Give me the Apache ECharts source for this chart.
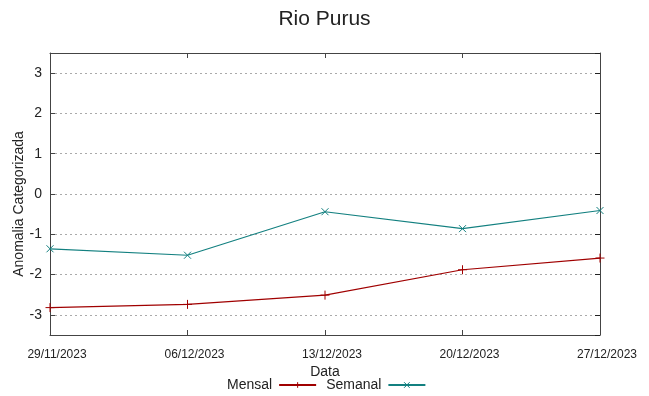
<!DOCTYPE html>
<html>
<head>
<meta charset="utf-8">
<script src="https://cdn.jsdelivr.net/npm/echarts@6/dist/echarts.min.js"></script>
<style>html,body{margin:0;padding:0;background:#fff}#c{width:649px;height:396px}</style>
</head>
<body>
<div id="c"></div>
<script>
var categories = ['29/11/2023', '06/12/2023', '13/12/2023', '20/12/2023', '27/12/2023'];
var mensal = [-2.82, -2.74, -2.51, -1.88, -1.59];
var semanal = [-1.36, -1.52, -0.44, -0.86, -0.41];
var yTicks = [-3, -2, -1, 0, 1, 2, 3];

var RED = '#a00000';
var TEAL = '#138080';
var PLUS = 'path://M5,0L5,10M0,5L10,5';
var CROSS = 'path://M0,0L10,10M0,10L10,0';

var chart = echarts.init(document.getElementById('c'), null, {renderer: 'canvas'});
var axisLine = {show: true, onZero: false, lineStyle: {color: '#444', width: 1}};
chart.setOption({
  animation: false,
  backgroundColor: '#fff',
  title: {
    text: 'Rio Purus', left: 'center', top: 4,
    textStyle: {fontFamily: 'Liberation Sans', fontSize: 21, fontWeight: 'normal', color: '#222'}
  },
  legend: {
    left: 222, top: 373, align: 'right', itemGap: 9, itemWidth: 37, itemHeight: 7,
    itemStyle: {borderWidth: 1},
    textStyle: {fontFamily: 'Liberation Sans', fontSize: 14, color: '#222', padding: [0, 2, 0, 0]},
    data: ['Mensal', 'Semanal']
  },
  grid: {left: 50, right: 49, top: 53, height: 282, outerBoundsMode: 'none', containLabel: false},
  xAxis: [{
    type: 'category', data: categories, boundaryGap: false,
    name: 'Data', nameLocation: 'middle', nameGap: 30, nameMoveOverlap: false,
    nameTextStyle: {fontFamily: 'Liberation Sans', fontSize: 14, color: '#222'},
    axisLine: axisLine,
    axisTick: {show: true, inside: true, length: 5, lineStyle: {color: '#444'}},
    axisLabel: {fontFamily: 'Liberation Sans', fontSize: 12, color: '#222', margin: 14, padding: [0, 0, 0, 14]},
    splitLine: {show: false}
  }, {
    type: 'category', data: categories, boundaryGap: false, position: 'top',
    axisLine: axisLine,
    axisTick: {show: true, inside: true, length: 5, lineStyle: {color: '#444'}},
    axisLabel: {show: false}, splitLine: {show: false}
  }],
  yAxis: [{
    type: 'value', min: -3.5, max: 3.5, splitNumber: 7,
    name: 'Anomalia Categorizada', nameLocation: 'middle', nameGap: 24, nameRotate: 90, nameMoveOverlap: false,
    nameTextStyle: {fontFamily: 'Liberation Sans', fontSize: 14, color: '#222', padding: [0, 20, 0, 0]},
    axisLine: axisLine,
    axisTick: {show: true, inside: true, length: 5, lineStyle: {color: '#444'}},
    axisLabel: {
      fontFamily: 'Liberation Sans', fontSize: 14, color: '#222', margin: 8,
      formatter: function (v) { return yTicks.indexOf(v) >= 0 ? String(v) : ''; }
    },
    splitLine: {show: true, lineStyle: {color: '#aaa', type: [2, 3], width: 1}}
  }, {
    type: 'value', min: -3.5, max: 3.5, splitNumber: 7, position: 'right',
    axisLine: axisLine,
    axisTick: {show: true, inside: true, length: 5, lineStyle: {color: '#222'}},
    axisLabel: {show: false}, splitLine: {show: false}
  }],
  series: [{
    name: 'Mensal', type: 'line', data: mensal,
    symbol: PLUS, symbolSize: 9, showAllSymbol: true,
    lineStyle: {color: RED, width: 1.2},
    itemStyle: {color: RED, borderColor: RED, borderWidth: 1}
  }, {
    name: 'Semanal', type: 'line', data: semanal,
    symbol: CROSS, symbolSize: 7, showAllSymbol: true,
    lineStyle: {color: TEAL, width: 1.2},
    itemStyle: {color: TEAL, borderColor: TEAL, borderWidth: 1}
  }]
});
</script>
</body>
</html>
